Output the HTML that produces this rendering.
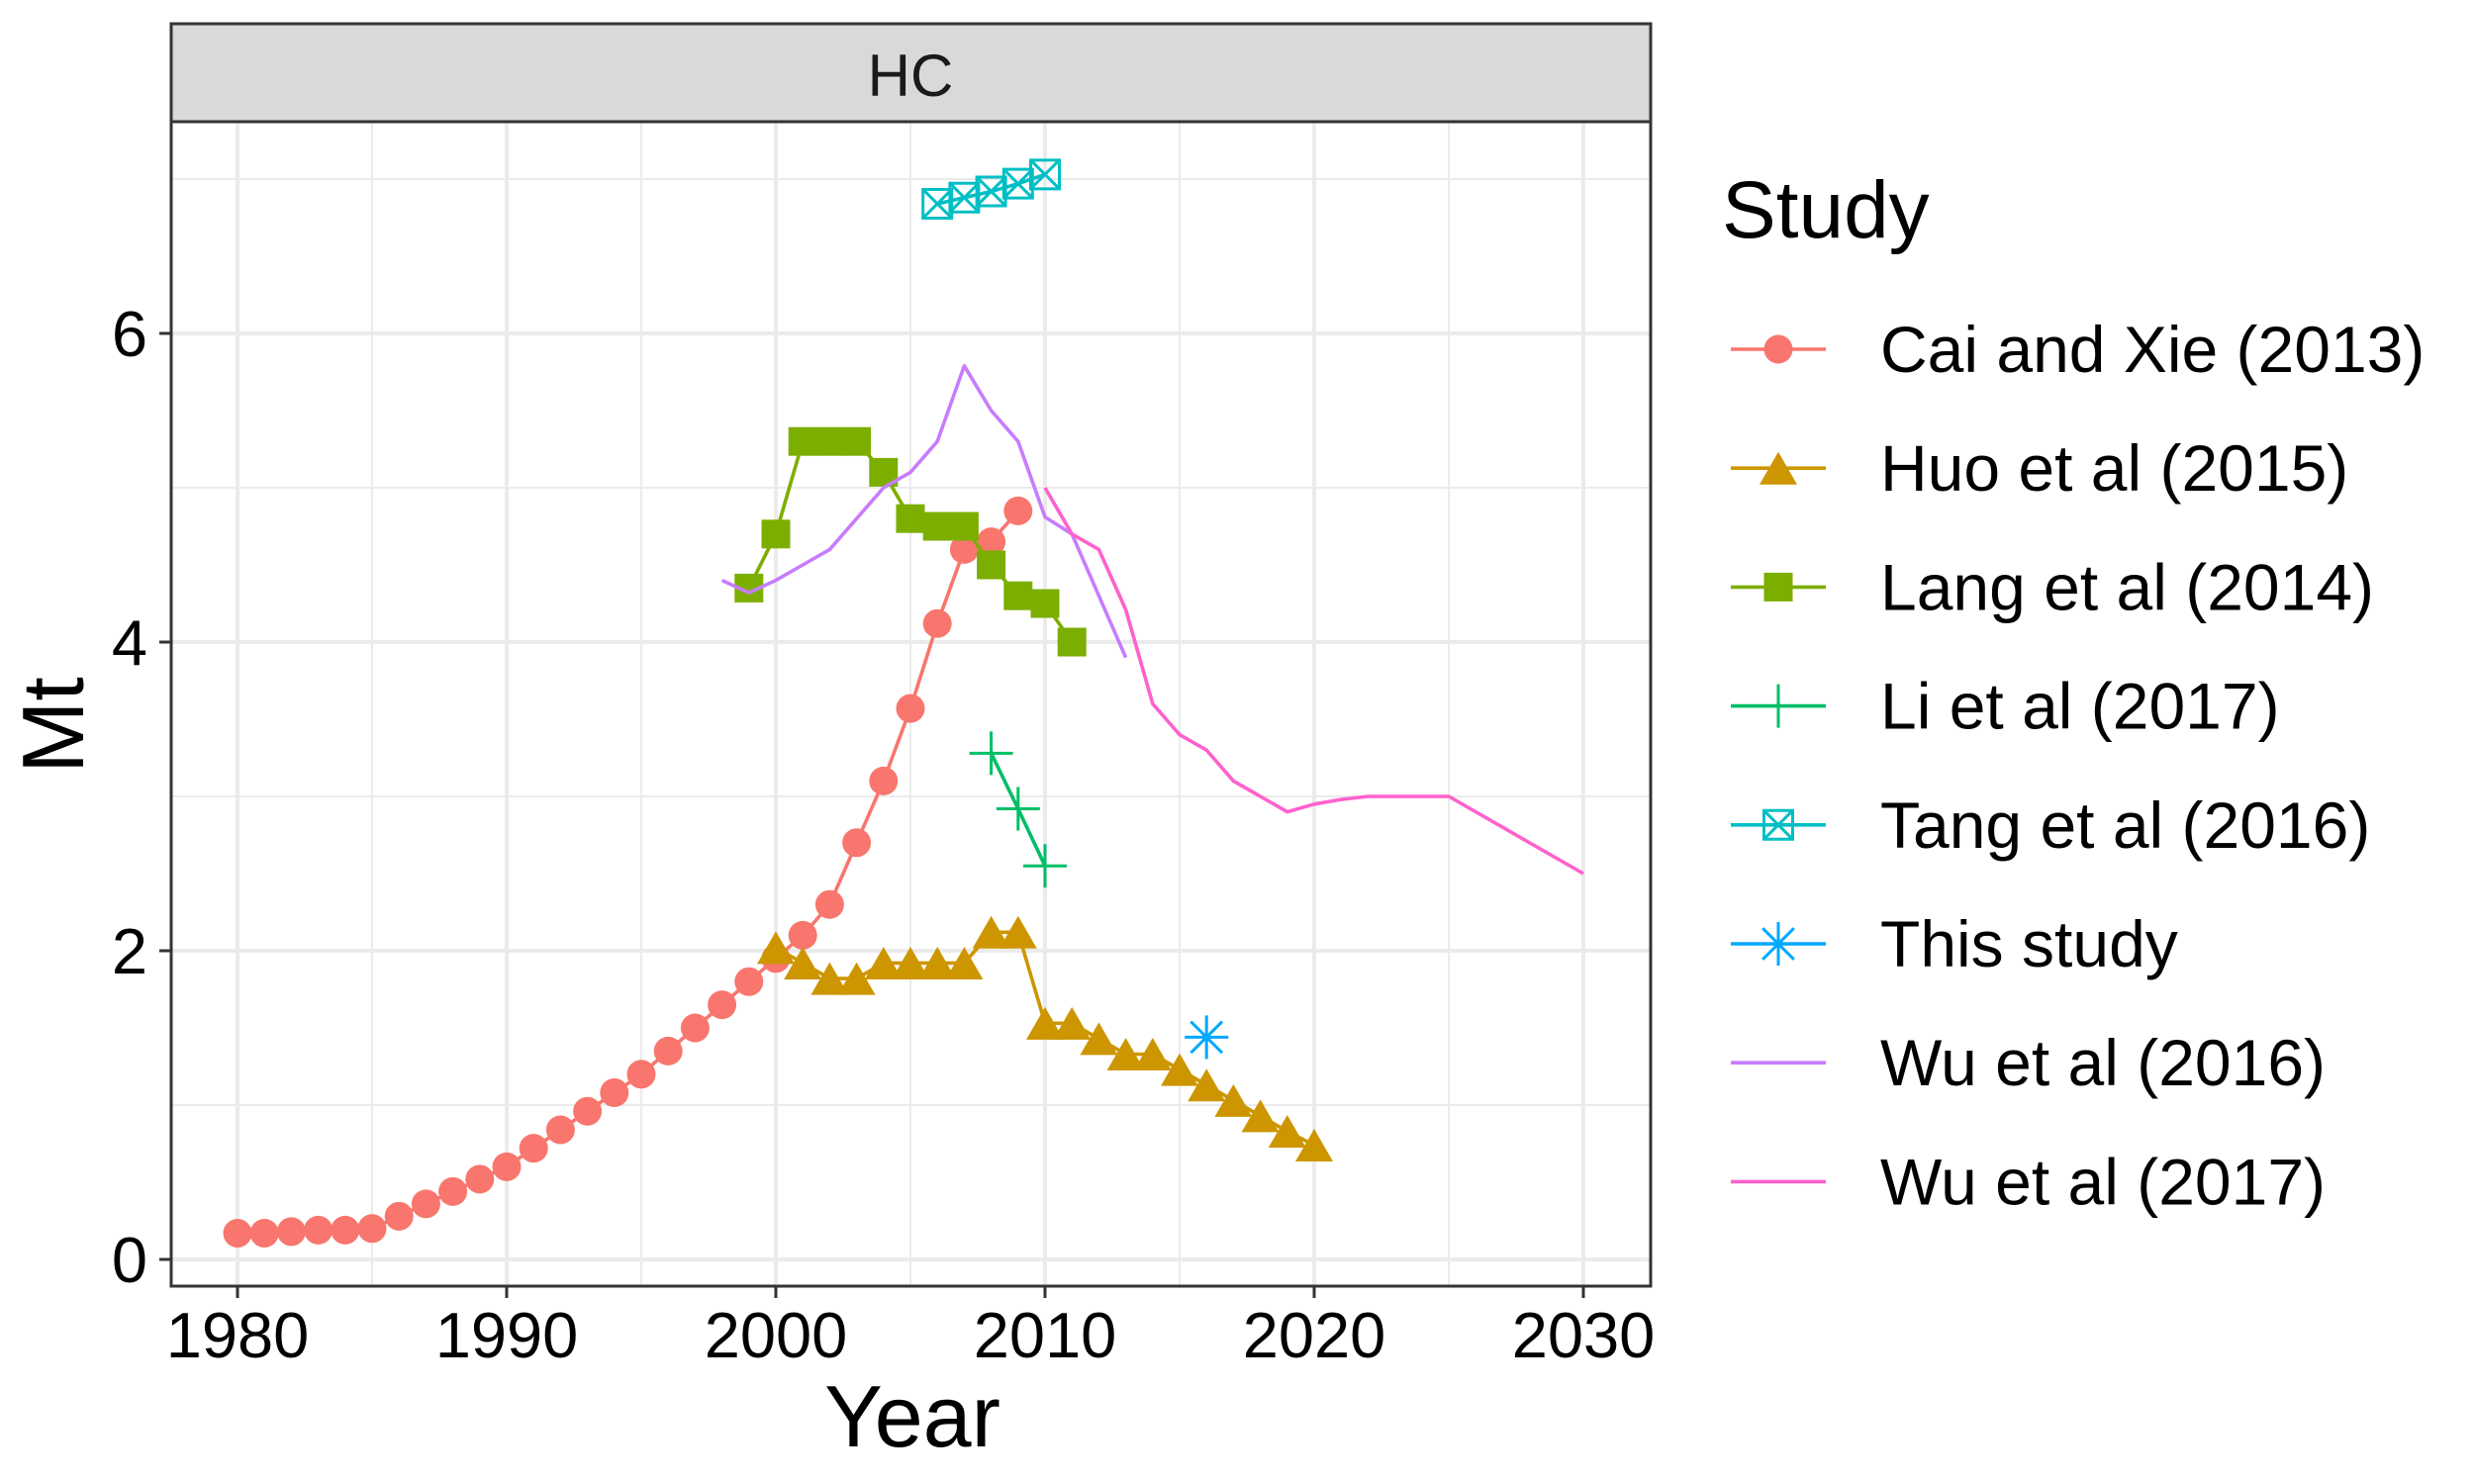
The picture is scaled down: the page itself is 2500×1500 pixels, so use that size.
<!DOCTYPE html>
<html><head><meta charset="utf-8"><style>
html,body{margin:0;padding:0;background:#fff;}
svg{display:block;font-family:"Liberation Sans",Arial,sans-serif;}
</style></head><body>
<svg id="chart" width="2500" height="1500" viewBox="0 0 2500 1500" xmlns="http://www.w3.org/2000/svg">
<rect x="0" y="0" width="2500" height="1500" fill="#fff"/>
<g id="grid"></g>
<g id="series"></g>
<rect x="173" y="123" width="1495" height="1177" fill="none" stroke="#333" stroke-width="3"/>
<rect x="173" y="24" width="1495" height="99" fill="#D9D9D9" stroke="#333" stroke-width="3"/>
<text x="920" y="97" font-size="60" text-anchor="middle" fill="#1a1a1a">HC</text>
<g id="axes"></g>
<text x="922" y="1462" font-size="88" text-anchor="middle" fill="#000">Year</text>
<text transform="translate(84,733) rotate(-90)" font-size="88" text-anchor="middle" fill="#000">Mt</text>
<text x="1740" y="240" font-size="82" fill="#000">Study</text>
<g id="legend"></g>
</svg>
<script>
const studyNames = ["Cai and Xie (2013)","Huo et al (2015)","Lang et al (2014)","Li et al (2017)","Tang et al (2016)","This study","Wu et al (2016)","Wu et al (2017)"];
const studyColors = ["#F8766D","#CD9600","#7CAE00","#00BE67","#00BFC4","#00A9FF","#C77CFF","#FF61CC"];
const studyShapes = ["circle","triangle","square","plus","boxx","asterisk","none","none"];
const caiYears = [1980,1981,1982,1983,1984,1985,1986,1987,1988,1989,1990,1991,1992,1993,1994,1995,1996,1997,1998,1999,2000,2001,2002,2003,2004,2005,2006,2007,2008,2009];
const caiValues = [0.17,0.17,0.18,0.19,0.19,0.2,0.28,0.36,0.44,0.52,0.6,0.72,0.84,0.96,1.08,1.2,1.35,1.5,1.65,1.8,1.95,2.1,2.3,2.7,3.1,3.57,4.12,4.6,4.65,4.85];
const huoYears = [2000,2001,2002,2003,2004,2005,2006,2007,2008,2009,2010,2011,2012,2013,2014,2015,2016,2017,2018,2019,2020];
const huoValues = [2.02,1.92,1.82,1.82,1.92,1.92,1.92,1.92,2.12,2.12,1.53,1.53,1.43,1.33,1.33,1.23,1.13,1.03,0.93,0.83,0.74];
const langYears = [1999,2000,2001,2002,2003,2004,2005,2006,2007,2008,2009,2010,2011];
const langValues = [4.35,4.7,5.3,5.3,5.3,5.1,4.8,4.75,4.75,4.5,4.3,4.25,4.0];
const liYears = [2008,2009,2010];
const liValues = [3.28,2.92,2.55];
const tangYears = [2006,2007,2008,2009,2010];
const tangValues = [6.84,6.88,6.92,6.97,7.03];
const thisYears = [2016];
const thisValues = [1.44];
const wu16Years = [1998,1999,2000,2001,2002,2003,2004,2005,2006,2007,2008,2009,2010,2011,2012,2013];
const wu16Values = [4.4,4.32,4.4,4.5,4.6,4.8,5.0,5.1,5.3,5.79,5.5,5.3,4.81,4.7,4.3,3.9];
const wu17Years = [2010,2011,2012,2013,2014,2015,2016,2017,2018,2019,2020,2021,2022,2023,2024,2025,2030];
const wu17Values = [5.0,4.7,4.6,4.21,3.6,3.4,3.3,3.1,3.0,2.9,2.95,2.98,3.0,3.0,3.0,3.0,2.5];
const xTicks = [1980,1990,2000,2010,2020,2030];
const xMinor = [1985,1995,2005,2015,2025];
const yTicks = [0,2,4,6];
const yMinor = [1,3,5,7];

const NS="http://www.w3.org/2000/svg";
const PL=173,PR=1668,PT=123,PB=1300;
const LW=3.6;
function xs(v){return 240+(v-1980)*27.2;}
function ys(v){return 1273-v*156;}
function mk(tag,attrs,parent){const e=document.createElementNS(NS,tag);for(const k in attrs)e.setAttribute(k,attrs[k]);parent.appendChild(e);return e;}

const grid=document.getElementById('grid');
yMinor.forEach(v=>{const l=mk('line',{x1:PL,x2:PR,y1:ys(v),y2:ys(v),stroke:'#EBEBEB','stroke-width':2},grid);

});
xMinor.forEach(v=>{const l=mk('line',{x1:xs(v),x2:xs(v),y1:PT,y2:PB,stroke:'#EBEBEB','stroke-width':2},grid);

});
yTicks.forEach(v=>{const l=mk('line',{x1:PL,x2:PR,y1:ys(v),y2:ys(v),stroke:'#EBEBEB','stroke-width':4},grid);

});
xTicks.forEach(v=>{const l=mk('line',{x1:xs(v),x2:xs(v),y1:PT,y2:PB,stroke:'#EBEBEB','stroke-width':4},grid);

});

const axes=document.getElementById('axes');
xTicks.forEach(v=>{const t=mk('line',{x1:xs(v),x2:xs(v),y1:PB,y2:PB+12,stroke:'#333','stroke-width':3},axes);


const tx=mk('text',{x:xs(v),y:1372,'font-size':65,'text-anchor':'middle',fill:'#000'},axes);tx.textContent=v;

});
yTicks.forEach(v=>{const t=mk('line',{x1:PL-12,x2:PL,y1:ys(v),y2:ys(v),stroke:'#333','stroke-width':3},axes);


const tx=mk('text',{x:149,y:ys(v)+23,'font-size':65,'text-anchor':'end',fill:'#000'},axes);tx.textContent=v;

});

function marker(shape,cx,cy,color,parent){
  let e;
  if(shape==='circle'){e=mk('circle',{cx:cx,cy:cy,r:14.5,fill:color},parent);}
  else if(shape==='square'){const s=29;e=mk('rect',{x:cx-s/2,y:cy-s/2,width:s,height:s,fill:color},parent);}
  else if(shape==='triangle'){const w=38,h=33;e=mk('polygon',{points:`${cx-w/2},${cy+h*0.5} ${cx+w/2},${cy+h*0.5} ${cx},${cy-h*0.5}`,fill:color},parent);}
  else if(shape==='plus'){const s=22;e=mk('path',{d:`M${cx-s},${cy}H${cx+s}M${cx},${cy-s}V${cy+s}`,stroke:color,'stroke-width':3,fill:'none'},parent);}
  else if(shape==='boxx'){const s=14.5;e=mk('path',{d:`M${cx-s},${cy-s}H${cx+s}V${cy+s}H${cx-s}ZM${cx-s},${cy-s}L${cx+s},${cy+s}M${cx+s},${cy-s}L${cx-s},${cy+s}`,stroke:color,'stroke-width':3,fill:'none'},parent);}
  else if(shape==='asterisk'){const s=22,d=s*0.72;e=mk('path',{d:`M${cx},${cy-s}V${cy+s}M${cx-s},${cy}H${cx+s}M${cx-d},${cy-d}L${cx+d},${cy+d}M${cx+d},${cy-d}L${cx-d},${cy+d}`,stroke:color,'stroke-width':3,fill:'none'},parent);}
  return e;
}

const seriesData=[[caiYears,caiValues],[huoYears,huoValues],[langYears,langValues],[liYears,liValues],[tangYears,tangValues],[thisYears,thisValues],[wu16Years,wu16Values],[wu17Years,wu17Values]];
const sl=document.getElementById('series');
seriesData.forEach((s,i)=>{
  const g=mk('g',{},sl);
  
  
  if(s[0].length>1){const pts=s[0].map((y,j)=>xs(y)+','+ys(s[1][j])).join(' ');
    const p=mk('polyline',{points:pts,fill:'none',stroke:studyColors[i],'stroke-width':LW,'stroke-linejoin':'round'},g);
    
    }
  if(studyShapes[i]!=='none'){s[0].forEach((y,j)=>{const m=marker(studyShapes[i],xs(y),ys(s[1][j]),studyColors[i],g);
    
    });}
});

const lg=document.getElementById('legend');
studyNames.forEach((n,i)=>{
  const cy=353+i*120.2;
  const g=mk('g',{},lg);
  
  
  mk('line',{x1:1749,x2:1845,y1:cy,y2:cy,stroke:studyColors[i],'stroke-width':LW},g);
  if(studyShapes[i]!=='none')marker(studyShapes[i],1797,cy,studyColors[i],g);
  const t=mk('text',{x:1900,y:cy+23,'font-size':66,fill:'#000'},g);t.textContent=n;
  
  
});
</script>
</body></html>
